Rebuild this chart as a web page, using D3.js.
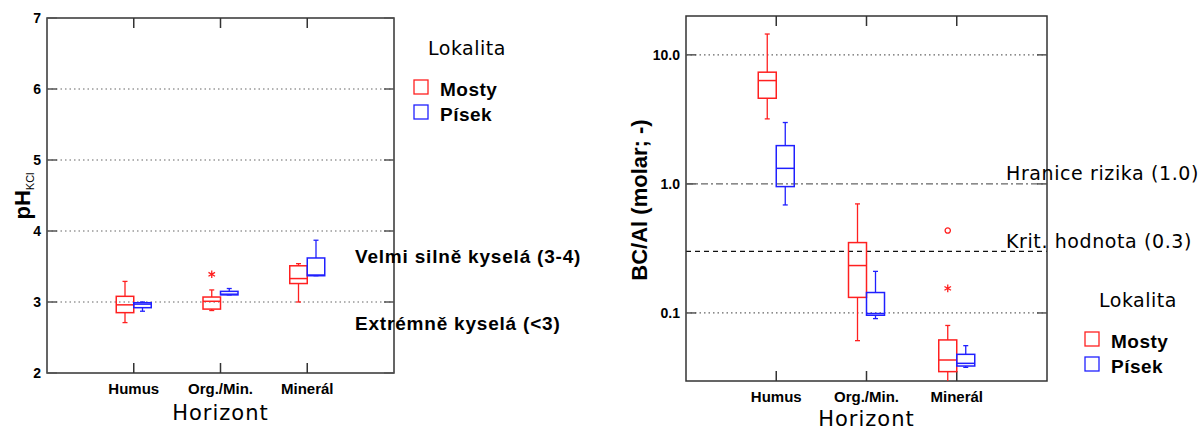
<!DOCTYPE html>
<html>
<head>
<meta charset="utf-8">
<script src="https://cdn.jsdelivr.net/npm/d3@7"></script>
<style>
  body { margin: 0; background: #fff; }
  svg { display: block; font-family: "Liberation Sans", Arial, sans-serif; }
</style>
</head>
<body>
<svg width="1201" height="430"></svg>
<script>
// categories and series
const horizons = ['Humus', 'Org./Min.', 'Minerál'];
const sites = ['Mosty', 'Písek'];
const siteColors = ['#ff2020', '#2020ff'];

// pH KCl box stats per horizon: [min, q1, median, q3, max]
const phMosty = [[2.71, 2.85, 2.96, 3.08, 3.29], [2.88, 2.90, 3.01, 3.07, 3.17], [3.00, 3.26, 3.33, 3.51, 3.54]];
const phPisek = [[2.87, 2.92, 2.97, 2.99, 3.00], [3.10, 3.10, 3.11, 3.15, 3.19], [3.37, 3.37, 3.38, 3.62, 3.87]];
// outliers: [horizon index, value, shape]
const phMostyOut = [[1, 3.39, 'star']];
const phPisekOut = [];
const phTicks = [2, 3, 4, 5, 6, 7];
const phGrid = [3, 4, 5, 6];

// BC/Al box stats
const bcMosty = [[3.19, 4.61, 6.32, 7.34, 14.5], [0.061, 0.132, 0.233, 0.351, 0.70], [0.029, 0.0351, 0.0432, 0.0618, 0.080]];
const bcPisek = [[0.687, 0.953, 1.32, 1.98, 2.99], [0.0904, 0.096, 0.099, 0.144, 0.21], [0.0379, 0.0388, 0.0407, 0.0478, 0.0558]];
const bcMostyOut = [[2, 0.435, 'circle'], [2, 0.155, 'star']];
const bcPisekOut = [];
const bcTicks = [0.1, 1, 10];

const svg = d3.select('svg');

function drawPanel(o) {
  const g = svg.append('g');
  const x = d3.scaleLinear().domain([0, 4]).range([o.left, o.right]);
  const y = o.y;

  // grid lines
  o.grid.forEach(gl => {
    g.append('line')
      .attr('x1', o.left).attr('x2', o.right)
      .attr('y1', y(gl.v)).attr('y2', y(gl.v))
      .attr('stroke', gl.color || '#666')
      .attr('stroke-width', 1.2)
      .attr('stroke-dasharray', gl.dash);
  });

  // frame
  g.append('rect')
    .attr('x', o.left).attr('y', o.top)
    .attr('width', o.right - o.left).attr('height', o.bottom - o.top)
    .attr('fill', 'none').attr('stroke', '#333').attr('stroke-width', 1.5);

  // y ticks, inward on both sides
  o.ticks.forEach(t => {
    const yy = y(t);
    g.append('line').attr('x1', o.left).attr('x2', o.left + 10).attr('y1', yy).attr('y2', yy)
      .attr('stroke', '#555').attr('stroke-width', 1.5);
    g.append('line').attr('x1', o.right - 10).attr('x2', o.right).attr('y1', yy).attr('y2', yy)
      .attr('stroke', '#555').attr('stroke-width', 1.5);
    g.append('text')
      .attr('x', o.left - 6).attr('y', yy).attr('dy', '0.36em')
      .attr('text-anchor', 'end').attr('font-size', 14).attr('font-weight', 'bold')
      .text(o.tickFormat(t));
  });

  // x ticks at categories (top and bottom, inward)
  horizons.forEach((h, i) => {
    const xx = x(i + 1);
    g.append('line').attr('x1', xx).attr('x2', xx).attr('y1', o.top).attr('y2', o.top + 10)
      .attr('stroke', '#333').attr('stroke-width', 1.5);
    g.append('line').attr('x1', xx).attr('x2', xx).attr('y1', o.bottom).attr('y2', o.bottom - 10)
      .attr('stroke', '#333').attr('stroke-width', 1.5);
    g.append('text')
      .attr('x', xx).attr('y', o.bottom + 21)
      .attr('text-anchor', 'middle').attr('font-size', 15).attr('font-weight', 'bold')
      .text(h);
  });

  // boxes
  const bw = o.boxW;
  const clipId = 'clip' + o.left;
  g.append('clipPath').attr('id', clipId).append('rect')
    .attr('x', o.left).attr('y', o.top).attr('width', o.right - o.left).attr('height', o.bottom - o.top);
  const bg = g.append('g').attr('clip-path', `url(#${clipId})`);

  [o.mosty, o.pisek].forEach((stats, s) => {
    const col = siteColors[s];
    stats.forEach((d, i) => {
      const x0 = x(i + 1) + (s === 0 ? -bw : 0);
      const xc = x0 + bw / 2;
      const [mn, q1, md, q3, mx] = d;
      bg.append('line').attr('x1', xc).attr('x2', xc).attr('y1', y(mx)).attr('y2', y(q3))
        .attr('stroke', col).attr('stroke-width', 1.3);
      bg.append('line').attr('x1', xc).attr('x2', xc).attr('y1', y(q1)).attr('y2', y(mn))
        .attr('stroke', col).attr('stroke-width', 1.3);
      [mn, mx].forEach(v => {
        bg.append('line').attr('x1', xc - 2.5).attr('x2', xc + 2.5).attr('y1', y(v)).attr('y2', y(v))
          .attr('stroke', col).attr('stroke-width', 1.3);
      });
      bg.append('rect')
        .attr('x', x0).attr('y', y(q3)).attr('width', bw).attr('height', y(q1) - y(q3))
        .attr('fill', 'none').attr('stroke', col).attr('stroke-width', 1.5);
      bg.append('line').attr('x1', x0).attr('x2', x0 + bw).attr('y1', y(md)).attr('y2', y(md))
        .attr('stroke', col).attr('stroke-width', 1.5);
    });
  });

  [o.mostyOut, o.pisekOut].forEach((outs, s) => {
    const col = siteColors[s];
    outs.forEach(([i, v, shape]) => {
      const xc = x(i + 1) + (s === 0 ? -bw / 2 : bw / 2);
      const sym = shape === 'circle' ? d3.symbolCircle : d3.symbolAsterisk;
      bg.append('path')
        .attr('transform', `translate(${xc},${y(v)})`)
        .attr('d', d3.symbol(sym, shape === 'circle' ? 22 : 40)())
        .attr('fill', 'none').attr('stroke', col).attr('stroke-width', 1.3);
    });
  });

  // x axis title
  g.append('text')
    .attr('x', (o.left + o.right) / 2).attr('y', o.titleY)
    .attr('text-anchor', 'middle').attr('font-size', 21).attr('letter-spacing', 1)
    .attr('font-family', '"DejaVu Sans", sans-serif')
    .text('Horizont');
}

// left panel: pH
const yPh = d3.scaleLinear().domain([2, 7]).range([373, 18]);
drawPanel({
  left: 47, right: 394, top: 18, bottom: 373, boxW: 17.5, titleY: 420,
  y: yPh, ticks: phTicks, tickFormat: d3.format('d'),
  grid: phGrid.map(v => ({ v, dash: '1.5,3' })),
  mosty: phMosty, pisek: phPisek, mostyOut: phMostyOut, pisekOut: phPisekOut
});

// pH axis title with subscript
const phTitle = svg.append('text')
  .attr('transform', 'translate(30,196) rotate(-90)')
  .attr('text-anchor', 'middle').attr('font-size', 22).attr('font-weight', 'bold');
phTitle.append('tspan').text('pH');
phTitle.append('tspan').attr('font-size', 11).attr('font-weight', 'normal').attr('dy', 4).text('KCl');

// left annotations
svg.append('text').attr('x', 355).attr('y', 263).attr('font-size', 19).attr('font-weight', 'bold')
  .attr('letter-spacing', 0.8).text('Velmi silně kyselá (3-4)');
svg.append('text').attr('x', 355).attr('y', 330).attr('font-size', 19).attr('font-weight', 'bold')
  .attr('letter-spacing', 0.8).text('Extrémně kyselá (<3)');

function drawLegend(lx, ly, titleX) {
  svg.append('text').attr('x', titleX).attr('y', ly).attr('font-size', 19).attr('letter-spacing', 0.5)
    .attr('font-family', '"DejaVu Sans", sans-serif').text('Lokalita');
  sites.forEach((s, i) => {
    const yy = ly + 32 + i * 25;
    svg.append('rect').attr('x', lx).attr('y', yy - 7).attr('width', 14).attr('height', 14)
      .attr('fill', 'none').attr('stroke', siteColors[i]).attr('stroke-width', 1.3);
    svg.append('text').attr('x', lx + 26).attr('y', yy).attr('dy', '0.45em')
      .attr('font-size', 19).attr('font-weight', 'bold').attr('letter-spacing', 0.5).text(s);
  });
}
drawLegend(414, 55, 428);

// right panel: BC/Al (log)
const yBc = d3.scaleLog().domain([0.0297, 20]).range([381, 16]);
drawPanel({
  left: 686, right: 1047, top: 16, bottom: 381, boxW: 18, titleY: 426,
  y: yBc, ticks: bcTicks, tickFormat: d3.format('.1f'),
  grid: [
    { v: 10, dash: '1.5,3' },
    { v: 1, dash: '7,3,2,3' },
    { v: 0.3, dash: '5,4', color: '#111' },
    { v: 0.1, dash: '1.5,3' }
  ],
  mosty: bcMosty, pisek: bcPisek, mostyOut: bcMostyOut, pisekOut: bcPisekOut
});

svg.append('text')
  .attr('transform', 'translate(647,200) rotate(-90)')
  .attr('text-anchor', 'middle').attr('font-size', 22).attr('font-weight', 'bold')
  .text('BC/Al (molar; -)');

svg.append('text').attr('x', 1006).attr('y', 180).attr('font-size', 19).attr('letter-spacing', 0.6)
  .attr('font-family', '"DejaVu Sans", sans-serif').text('Hranice rizika (1.0)');
svg.append('text').attr('x', 1006).attr('y', 248).attr('font-size', 19).attr('letter-spacing', 0.6)
  .attr('font-family', '"DejaVu Sans", sans-serif').text('Krit. hodnota (0.3)');

drawLegend(1085, 307, 1099);
</script>
</body>
</html>
